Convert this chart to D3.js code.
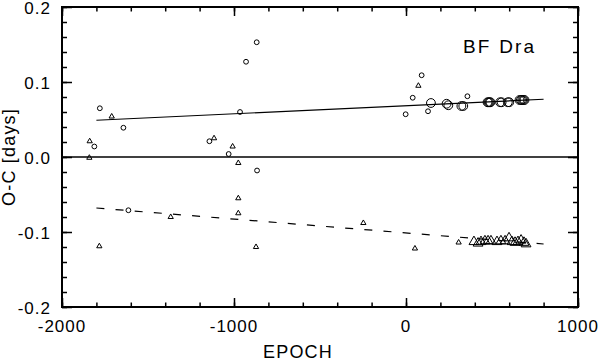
<!DOCTYPE html>
<html><head><meta charset="utf-8">
<script src="https://cdn.jsdelivr.net/npm/d3@7/dist/d3.min.js"></script>
<style>
body{margin:0;background:#fff;}
svg text{font-family:"Liberation Sans",Arial,sans-serif;fill:#000;}
</style></head>
<body><svg id="c" width="598" height="361"></svg>
<script>
// ---- data ----
const xMajorTicks = [-2000, -1000, 0, 1000];
const yMajorTicks = [-0.2, -0.1, 0.0, 0.1, 0.2];
const yTickLabels = ["-0.2", "-0.1", "0.0", "0.1", "0.2"];
const xTickLabels = ["-2000", "-1000", "0", "1000"];

const smallCircleE = [-1812, -1780, -1643, -1614, -1143, -1031, -965, -930, -868, -866, -2, 39, 91, 128, 357];
const smallCircleV = [0.014, 0.065, 0.039, -0.071, 0.021, 0.004, 0.060, 0.127, 0.153, -0.018, 0.057, 0.079, 0.109, 0.061, 0.081];

const largeCircleE = [145, 236, 246, 322, 333, 474, 480, 486, 491, 547, 556, 592, 600, 660, 668, 676, 683, 689];
const largeCircleV = [0.072, 0.071, 0.069, 0.068, 0.068, 0.073, 0.073, 0.073, 0.073, 0.073, 0.073, 0.073, 0.073, 0.076, 0.076, 0.076, 0.076, 0.076];

const smallTriE = [-1839, -1841, -1711, -1783, -1368, -1116, -1008, -975, -975, -975, -872, -248, 52, 72, 306];
const smallTriV = [0.021, -0.001, 0.054, -0.119, -0.080, 0.025, 0.014, -0.008, -0.055, -0.075, -0.120, -0.088, -0.122, 0.095, -0.114];

const largeTriE = [395, 419, 436, 459, 477, 494, 529, 552, 576, 599, 616, 634, 651, 669, 686, 698];
const largeTriV = [-0.113, -0.115, -0.113, -0.112, -0.112, -0.112, -0.113, -0.112, -0.112, -0.108, -0.113, -0.114, -0.113, -0.111, -0.114, -0.116];

const solidFitE = [-1800, 800];
const solidFitV = [0.049, 0.077];
const dashedFitE = [-1800, 800];
const dashedFitV = [-0.068, -0.116];

// ---- layout ----
const L = 62, R = 578, T = 7, B = 307;
const svg = d3.select("#c");
const x = d3.scaleLinear().domain([-2000, 1000]).range([L, R]);
const y = d3.scaleLinear().domain([-0.2, 0.2]).range([B, T]);

const xMinor = d3.range(-2000, 1001, 200);
const yMinor = d3.range(-10, 11).map(i => i * 0.02);

function axisDraw(gen, tr) {
  const g = svg.append("g").attr("transform", tr).call(gen);
  g.select(".domain").remove();
  g.selectAll("line").attr("stroke", "#000").attr("stroke-width", 1.5);
  g.selectAll("text").remove();
  return g;
}
// minor ticks (inward)
axisDraw(d3.axisBottom(x).tickValues(xMinor).tickSize(-4.5), `translate(0,${B})`);
axisDraw(d3.axisTop(x).tickValues(xMinor).tickSize(-4.5), `translate(0,${T})`);
axisDraw(d3.axisLeft(y).tickValues(yMinor).tickSize(-5), `translate(${L},0)`);
axisDraw(d3.axisRight(y).tickValues(yMinor).tickSize(-5), `translate(${R},0)`);
// major ticks
axisDraw(d3.axisBottom(x).tickValues(xMajorTicks).tickSize(-9), `translate(0,${B})`);
axisDraw(d3.axisTop(x).tickValues(xMajorTicks).tickSize(-9), `translate(0,${T})`);
axisDraw(d3.axisLeft(y).tickValues(yMajorTicks).tickSize(-10), `translate(${L},0)`);
axisDraw(d3.axisRight(y).tickValues(yMajorTicks).tickSize(-10), `translate(${R},0)`);

// frame
svg.append("rect").attr("x", L).attr("y", T).attr("width", R - L).attr("height", B - T)
  .attr("fill", "none").attr("stroke", "#000").attr("stroke-width", 2);

// tick labels
svg.append("g").selectAll("text").data(xMajorTicks).join("text")
  .attr("x", d => x(d)).attr("y", 332).attr("text-anchor", "middle")
  .attr("font-size", 17).attr("letter-spacing", 1)
  .text((d, i) => xTickLabels[i]);
svg.append("g").selectAll("text").data(yMajorTicks).join("text")
  .attr("x", 51).attr("y", d => y(d) + 6.5).attr("text-anchor", "end")
  .attr("font-size", 17).attr("letter-spacing", 1)
  .text((d, i) => yTickLabels[i]);

// axis titles
svg.append("text").attr("x", 298).attr("y", 358).attr("text-anchor", "middle")
  .attr("font-size", 18).attr("letter-spacing", 1.2).text("EPOCH");
svg.append("text").attr("transform", `translate(15,${y(0)}) rotate(-90)`)
  .attr("text-anchor", "middle").attr("font-size", 18).attr("letter-spacing", 1.2).text("O-C [days]");
svg.append("text").attr("x", 463).attr("y", 53).attr("font-size", 19).attr("letter-spacing", 2.2).text("BF Dra");

// zero line
svg.append("line").attr("x1", L).attr("x2", R).attr("y1", y(0)).attr("y2", y(0))
  .attr("stroke", "#000").attr("stroke-width", 1.5);

// fit lines
const lineGen = d3.line().x(d => x(d[0])).y(d => y(d[1]));
svg.append("path").attr("d", lineGen(d3.zip(solidFitE, solidFitV)))
  .attr("fill", "none").attr("stroke", "#000").attr("stroke-width", 1.2);
svg.append("path").attr("d", lineGen(d3.zip(dashedFitE, dashedFitV)))
  .attr("fill", "none").attr("stroke", "#000").attr("stroke-width", 1.2)
  .attr("stroke-dasharray", "8,11.2");

// markers
const pts = svg.append("g").attr("fill", "none").attr("stroke", "#000").attr("stroke-width", 1);
pts.selectAll(".sc").data(d3.zip(smallCircleE, smallCircleV)).join("circle")
  .attr("cx", d => x(d[0])).attr("cy", d => y(d[1])).attr("r", 2.4);
pts.selectAll(".lc").data(d3.zip(largeCircleE, largeCircleV)).join("circle")
  .attr("cx", d => x(d[0])).attr("cy", d => y(d[1])).attr("r", 4.4);
const triS = d3.symbol().type(d3.symbolTriangle).size(12);
const triL = d3.symbol().type(d3.symbolTriangle).size(42);
pts.selectAll(".st").data(d3.zip(smallTriE, smallTriV)).join("path")
  .attr("transform", d => `translate(${x(d[0])},${y(d[1])})`).attr("d", triS());
pts.selectAll(".lt").data(d3.zip(largeTriE, largeTriV)).join("path")
  .attr("transform", d => `translate(${x(d[0])},${y(d[1])})`).attr("d", triL());
</script></body></html>
